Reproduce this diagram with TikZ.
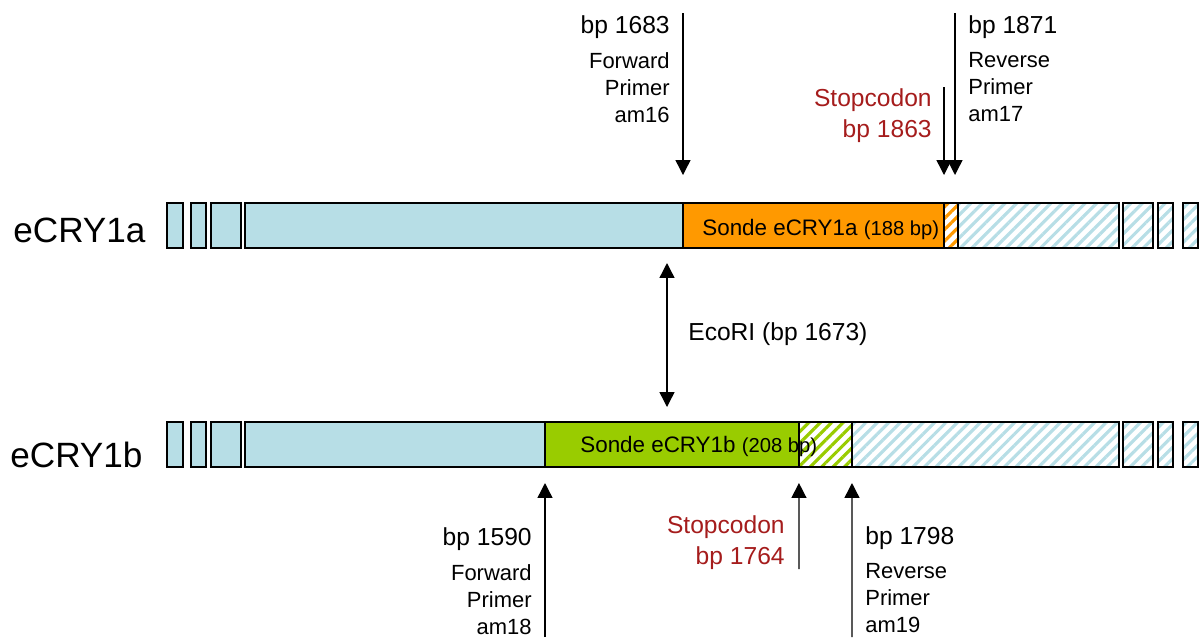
\documentclass[tikz,border=0pt]{standalone}
\usepackage{fontspec}
\setmainfont{Liberation Sans}
\usetikzlibrary{arrows.meta,positioning,patterns.meta}
\definecolor{exon}{RGB}{183,222,230}
\definecolor{probeA}{RGB}{255,153,0}
\definecolor{probeB}{RGB}{153,204,0}
\definecolor{stopred}{RGB}{165,28,28}

\begin{document}
\begin{tikzpicture}[
    x=0.02cm, y=-0.02cm,
    seg/.style={draw, line width=1.3pt, minimum height=0.9cm, inner sep=0pt, outer sep=0pt, anchor=west},
    exonbox/.style={seg, fill=exon},
    utrbox/.style={seg, pattern={Lines[angle=45,distance=4.6pt,line width=1.8pt]}, pattern color=#1},
    utrbox/.default=exon,
    genelabel/.style={font=\fontsize{20pt}{24pt}\selectfont, inner sep=0pt},
    probetext/.style={font=\fontsize{12.75pt}{15pt}\selectfont, inner sep=0pt, anchor=base west},
    bptext/.style={font=\fontsize{14pt}{17pt}\selectfont, inner sep=0pt},
    primertext/.style={font=\fontsize{12.5pt}{15.3pt}\selectfont, inner sep=0pt},
    stoptext/.style={font=\fontsize{14pt}{17.6pt}\selectfont, inner sep=0pt, text=stopred, align=right, anchor=north east},
    arr/.style={-{Triangle[length=8.5pt,width=8.5pt]}, line width=0.8pt},
    dblarr/.style={{Triangle[length=8.5pt,width=8.5pt]}-{Triangle[length=8.5pt,width=8.5pt]}, line width=0.8pt}
]
\useasboundingbox (0,0) rectangle (1201,637);
% eCRY1a
\node[exonbox, minimum width=0.32cm] (exA1) at (167,225.5) {};
\node[exonbox, minimum width=0.30cm] (exA2) at (191,225.5) {};
\node[exonbox, minimum width=0.60cm] (exA3) at (211,225.5) {};
\node[exonbox, minimum width=8.76cm] (blueA) at (245,225.5) {};
\node[seg, fill=probeA, minimum width=5.22cm] (sondeA) at (683,225.5) {};
\node[utrbox=probeA, minimum width=0.28cm] (hatchA) at (944,225.5) {};
\node[utrbox, minimum width=3.22cm] (utrA) at (958,225.5) {};
\node[utrbox, minimum width=0.60cm] (utrA1) at (1123,225.5) {};
\node[utrbox, minimum width=0.30cm] (utrA2) at (1158,225.5) {};
\node[utrbox, minimum width=0.30cm] (utrA3) at (1183,225.5) {};
% eCRY1b
\node[exonbox, minimum width=0.32cm] (exB1) at (167,444.5) {};
\node[exonbox, minimum width=0.30cm] (exB2) at (191,444.5) {};
\node[exonbox, minimum width=0.60cm] (exB3) at (211,444.5) {};
\node[exonbox, minimum width=6.00cm] (blueB) at (245,444.5) {};
\node[seg, fill=probeB, minimum width=5.08cm] (sondeB) at (545,444.5) {};
\node[utrbox=probeB, minimum width=1.06cm] (hatchB) at (799,444.5) {};
\node[utrbox, minimum width=5.34cm] (utrB) at (852,444.5) {};
\node[utrbox, minimum width=0.60cm] (utrB1) at (1123,444.5) {};
\node[utrbox, minimum width=0.30cm] (utrB2) at (1158,444.5) {};
\node[utrbox, minimum width=0.30cm] (utrB3) at (1183,444.5) {};

\node[genelabel, anchor=base west] (nameA) at (13,242) {eCRY1a};
\node[genelabel, anchor=base west] (nameB) at (10,467) {eCRY1b};
\node[probetext] (probeAtext) at (702,235) {Sonde eCRY1a {\fontsize{11.5pt}{13pt}\selectfont(188 bp)}};
\node[probetext] (probeBtext) at (580,452) {Sonde eCRY1b {\fontsize{11.5pt}{13pt}\selectfont(208 bp)}};

% primers and stop codons, top
\node[bptext, anchor=base east] (fwdAbp) at (670,33) {bp 1683};
\node[primertext, align=right, anchor=north east] (fwdAname) at (670,52) {Forward\\Primer\\am16};
\node[bptext, anchor=base west] (revAbp) at (968,33) {bp 1871};
\node[primertext, align=left, anchor=north west] (revAname) at (968,52) {Reverse\\Primer\\am17};
\node[stoptext] (stopAtext) at (932,88) {Stopcodon\\bp 1863};
\node[bptext, anchor=base west] (ecoText) at (688,340) {EcoRI (bp 1673)};
% primers and stop codons, bottom
\node[bptext, anchor=base east] (fwdBbp) at (532,545) {bp 1590};
\node[primertext, align=right, anchor=north east] (fwdBname) at (532,564) {Forward\\Primer\\am18};
\node[stoptext] (stopBtext) at (785,515) {Stopcodon\\bp 1764};
\node[bptext, anchor=base west] (revBbp) at (865,544) {bp 1798};
\node[primertext, align=left, anchor=north west] (revBname) at (865,563) {Reverse\\Primer\\am19};

\coordinate (fwdAtop) at (683,13);
\coordinate (stopAtop) at (944,87);
\coordinate (revAtop) at (955,13);
\coordinate (revAtip) at (955,175);
\coordinate (ecoTop) at (667,263);
\coordinate (ecoBot) at (667,407);
\coordinate (fwdBbot) at (545,637);
\coordinate (stopBbot) at (799,569);
\coordinate (revBbot) at (852,637);

\draw[arr, shorten >=0.56cm] (fwdAtop) -- (sondeA.north west);
\draw[arr, shorten >=0.56cm] (stopAtop) -- (hatchA.north west);
\draw[arr] (revAtop) -- (revAtip);
\draw[dblarr] (ecoTop) -- (ecoBot);
\draw[arr, shorten >=0.32cm] (fwdBbot) -- (sondeB.south west);
\draw[arr, shorten >=0.32cm] (stopBbot) -- (sondeB.south east);
\draw[arr, shorten >=0.32cm] (revBbot) -- (hatchB.south east);
\end{tikzpicture}
\end{document}
